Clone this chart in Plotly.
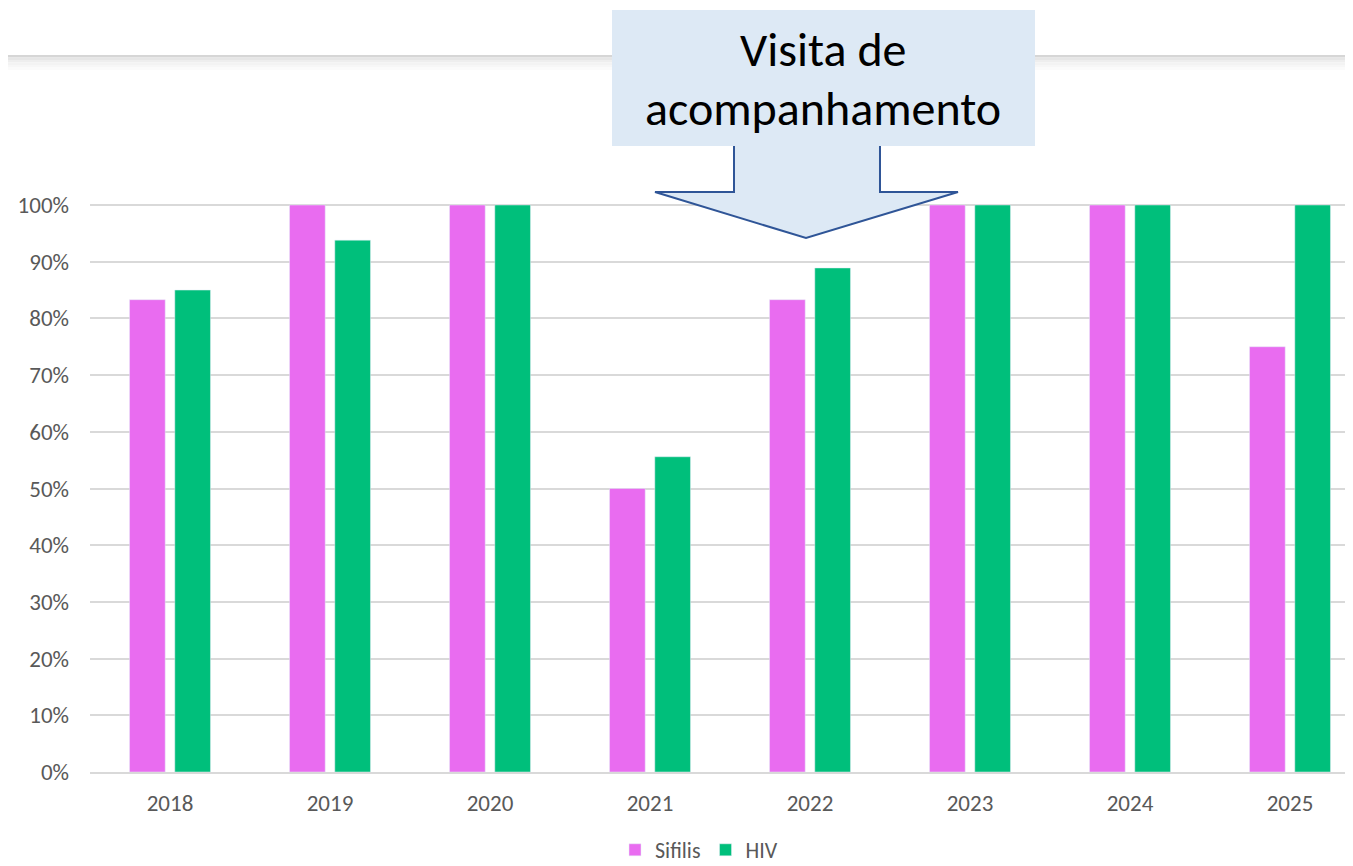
import plotly.graph_objects as go

years = ["2018", "2019", "2020", "2021", "2022", "2023", "2024", "2025"]
sifilis = [0.833, 1.0, 1.0, 0.50, 0.833, 1.0, 1.0, 0.75]
hiv = [0.85, 0.938, 1.0, 0.556, 0.889, 1.0, 1.0, 1.0]
series_names = ["Sifilis", "HIV"]
y_ticks = [0, 0.1, 0.2, 0.3, 0.4, 0.5, 0.6, 0.7, 0.8, 0.9, 1.0]
y_tick_labels = ["0%", "10%", "20%", "30%", "40%", "50%", "60%", "70%", "80%", "90%", "100%"]
callout_lines = ["Visita de", "acompanhamento"]

OFF = 8  # page body margin
W, H = 1353 - OFF, 866 - OFF
ML = 90 - OFF
MR = 0
MT = 195 - OFF
MB = H - (772 - OFF)
PW, PH = W - ML - MR, H - MT - MB
FONT = "Carlito, Lato, sans-serif"
GREY = "#595959"


def px(x):
    return (x - OFF - ML) / PW


def py(y):
    return (H - MB - (y - OFF)) / PH


fig = go.Figure()
fig.add_trace(go.Bar(x=years, y=sifilis, name=series_names[0], marker_color="#e96cf0"))
fig.add_trace(go.Bar(x=years, y=hiv, name=series_names[1], marker_color="#00bf7b"))

shapes = []
# header line with soft shadow
for i, c in enumerate(["#d6d6d6", "#e6e6e6", "#eeeeee", "#f3f3f3", "#f7f7f7", "#fbfbfb"]):
    shapes.append(dict(type="rect", xref="paper", yref="paper", x0=px(0), x1=px(1360),
                       y0=py(55 + i * 2.5), y1=py(55 + (i + 1) * 2.5), fillcolor=c, line_width=0,
                       layer="above"))
# callout box
shapes.append(dict(type="rect", xref="paper", yref="paper", x0=px(612), x1=px(1035),
                   y0=py(146), y1=py(10), fillcolor="#dde9f5", line_width=0, layer="above"))
# arrow
pts = [(734, 146), (734, 192), (655, 192), (806, 238), (958, 192), (880, 192), (880, 146)]
path = "M " + " L ".join(f"{px(a):.5f},{py(b):.5f}" for a, b in pts)
shapes.append(dict(type="path", xref="paper", yref="paper", path=path,
                   fillcolor="#dde9f5", line=dict(color="#2f5597", width=2), layer="above"))

annotations = []
for txt, yy in zip(callout_lines, [50, 109]):
    annotations.append(dict(text=txt, xref="paper", yref="paper", x=px(823), y=py(yy),
                            xanchor="center", yanchor="middle", showarrow=False,
                            font=dict(family=FONT, size=48, color="#000000")))

fig.update_layout(
    width=W, height=H,
    margin=dict(l=ML, r=MR, t=MT, b=MB, autoexpand=False),
    paper_bgcolor="white", plot_bgcolor="white",
    barmode="group", bargap=0.434, bargroupgap=0.212,
    font=dict(family=FONT, color=GREY, size=23),
    shapes=shapes, annotations=annotations,
    legend=dict(orientation="h", xref="container", yref="container",
                x=(699 - OFF) / W, y=(H - (850 - OFF)) / H, xanchor="center",
                yanchor="middle", font=dict(size=22, color=GREY), itemwidth=30,
                traceorder="normal"),
    xaxis=dict(type="category", range=[-0.5, -0.5 + PW / 160], showgrid=False,
               showline=True, linecolor="#d9d9d9", linewidth=1.5, ticks="",
               tickfont=dict(size=23, color=GREY), ticklabelstandoff=10, fixedrange=True,
               automargin=False),
    yaxis=dict(range=[0, PH / 567], tickvals=y_ticks, ticktext=y_tick_labels,
               showgrid=True, gridcolor="#d9d9d9", gridwidth=1.5, zeroline=False,
               showline=False, ticks="", tickfont=dict(size=23, color=GREY),
               ticklabelstandoff=20, fixedrange=True, automargin=False),
)

fig.write_html("out.html")
